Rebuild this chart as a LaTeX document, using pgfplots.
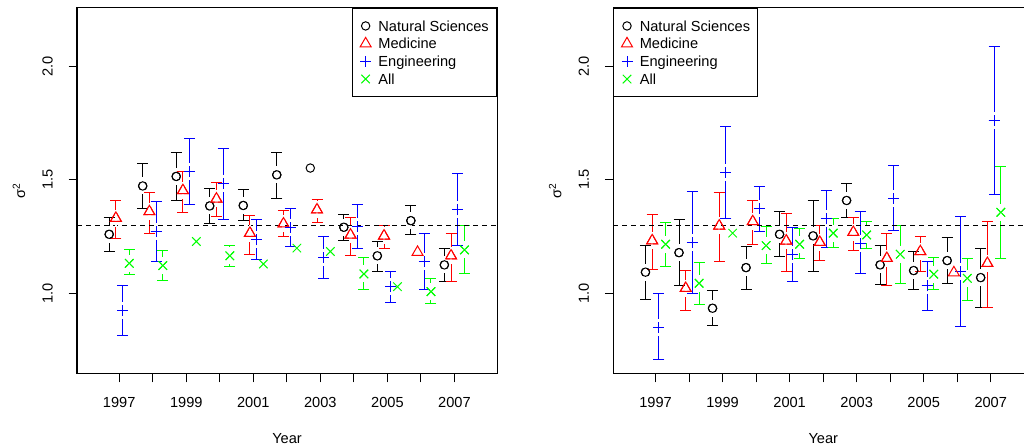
\documentclass[border=0pt]{standalone}
\usepackage{fontspec}
\setmainfont{Liberation Sans}
\usepackage{pgfplots}
\usepackage{pgfplotstable}
\pgfplotsset{compat=1.18}
\newcommand\fs{\fontsize{14.6pt}{17pt}\selectfont}
\definecolor{rred}{RGB}{255,0,0}
\definecolor{rblue}{RGB}{0,0,255}
\definecolor{rgreen}{RGB}{0,255,0}
\pgfdeclareplotmark{rplus}{%
  \pgfpathmoveto{\pgfqpoint{-\pgfplotmarksize}{0pt}}%
  \pgfpathlineto{\pgfqpoint{\pgfplotmarksize}{0pt}}%
  \pgfpathmoveto{\pgfqpoint{0pt}{-\pgfplotmarksize}}%
  \pgfpathlineto{\pgfqpoint{0pt}{\pgfplotmarksize}}%
  \pgfusepathqstroke}

% left panel
\pgfplotstableread{
x y lo hi
1996.7 1.260 1.184 1.335
1997.7 1.473 1.375 1.571
1998.7 1.515 1.407 1.622
1999.7 1.385 1.309 1.460
2000.7 1.387 1.319 1.456
2001.7 1.522 1.419 1.620
2003.7 1.291 1.232 1.349
2004.7 1.165 1.095 1.228
2005.7 1.320 1.257 1.385
2006.7 1.125 1.051 1.199
}\lNS
\pgfplotstableread{
x y
2002.7 1.552
}\lNSn
\pgfplotstableread{
x y lo hi
1996.9 1.331 1.243 1.410
1997.9 1.360 1.265 1.444
1998.9 1.453 1.356 1.537
1999.9 1.416 1.338 1.488
2000.9 1.265 1.173 1.342
2001.9 1.306 1.250 1.365
2002.9 1.368 1.312 1.415
2003.9 1.257 1.165 1.335
2004.9 1.253 1.199 1.297
2006.9 1.165 1.051 1.262
}\lMed
\pgfplotstableread{
x y
2005.9 1.181
}\lMedn
\pgfplotstableread{
x y lo hi
1997.1 0.923 0.813 1.035
1998.1 1.272 1.139 1.403
1999.1 1.537 1.390 1.684
2000.1 1.485 1.327 1.640
2001.1 1.235 1.147 1.323
2002.1 1.291 1.206 1.375
2003.1 1.159 1.066 1.250
2004.1 1.294 1.199 1.390
2005.1 1.029 0.959 1.095
2006.1 1.139 1.015 1.262
2007.1 1.368 1.209 1.526
}\lEng
\pgfplotstableread{
x y lo hi
1997.3 1.132 1.081 1.191
1998.3 1.122 1.056 1.188
2000.3 1.165 1.117 1.210
2004.3 1.085 1.015 1.159
2006.3 1.007 0.956 1.066
2007.3 1.191 1.085 1.297
}\lAll
\pgfplotstableread{
x y
1999.3 1.228
2001.3 1.129
2002.3 1.199
2003.3 1.184
2005.3 1.029
}\lAlln

% right panel
\pgfplotstableread{
x y lo hi
1996.7 1.093 0.974 1.209
1997.7 1.179 1.032 1.323
1998.7 0.934 0.856 1.012
1999.7 1.113 1.018 1.206
2000.7 1.260 1.162 1.360
2001.7 1.253 1.095 1.409
2002.7 1.409 1.335 1.482
2003.7 1.125 1.040 1.210
2004.7 1.100 1.015 1.184
2005.7 1.144 1.041 1.245
2006.7 1.069 0.936 1.199
}\rNS
\pgfplotstableread{
x y lo hi
1996.9 1.232 1.103 1.349
1997.9 1.022 0.926 1.100
1998.9 1.297 1.138 1.446
1999.9 1.316 1.213 1.409
2000.9 1.231 1.095 1.353
2001.9 1.225 1.143 1.298
2002.9 1.269 1.188 1.335
2003.9 1.154 1.034 1.265
2004.9 1.184 1.095 1.250
2006.9 1.132 0.936 1.316
}\rMed
\pgfplotstableread{
x y
2005.9 1.091
}\rMedn
\pgfplotstableread{
x y lo hi
1997.1 0.850 0.706 0.997
1998.1 1.223 0.997 1.448
1999.1 1.534 1.331 1.733
2000.1 1.375 1.272 1.470
2001.1 1.172 1.051 1.291
2002.1 1.328 1.201 1.453
2003.1 1.221 1.085 1.360
2004.1 1.419 1.275 1.563
2005.1 1.032 0.922 1.139
2006.1 1.095 0.853 1.338
2007.1 1.762 1.434 2.086
}\rEng
\pgfplotstableread{
x y lo hi
1997.3 1.216 1.120 1.313
1998.3 1.044 0.951 1.135
2000.3 1.210 1.132 1.294
2001.3 1.216 1.154 1.287
2002.3 1.265 1.201 1.328
2003.3 1.257 1.196 1.316
2004.3 1.172 1.044 1.298
2005.3 1.084 1.018 1.157
2006.3 1.066 0.970 1.154
2007.3 1.357 1.154 1.559
}\rAll
\pgfplotstableread{
x y
1999.3 1.265
}\rAlln

\pgfplotsset{
  panel/.style={
    scale only axis, width=420pt, height=366.3pt, anchor=south west,
    xmin=1995.74, xmax=2008.27, ymin=0.644, ymax=2.259,
    axis line style={line width=1pt},
    xtick={1997,1998,1999,2000,2001,2002,2003,2004,2005,2006,2007},
    xticklabels={1997,,1999,,2001,,2003,,2005,,2007},
    ytick={1,1.5,2}, yticklabels={1.0,1.5,2.0},
    xtick pos=bottom, ytick pos=left, tick align=outside, major tick length=8.5pt,
    tick style={black,line width=1pt},
    font=\fs, ticklabel style={font=\fs},
    xticklabel style={anchor=base}, xticklabel shift=25pt,
    yticklabel style={rotate=90, anchor=base}, yticklabel shift=16pt,
    xlabel={Year}, ylabel={σ\textsuperscript{2}},
    xlabel style={at={(axis description cs:0.5,0)}, anchor=base, yshift=-70pt, font=\fs},
    ylabel style={at={(axis description cs:-0.1238,0.5)}, anchor=base, font=\fs},
    legend cell align=left,
    legend style={draw=black, line width=1pt, font=\fs,
      inner xsep=7.7pt, inner ysep=11pt, row sep=4.2pt, column sep=7.3pt,
      nodes={inner sep=0pt, text height=12pt, text depth=1.5pt}},
    every axis plot/.append style={line width=1pt},
  },
  eb/.style={error bars/.cd, y dir=both, y explicit,
    error bar style={line width=1pt, solid},
    error mark options={rotate=90, mark size=5.5pt, line width=1pt}},
  gap/.style={forget plot, only marks, mark=|, mark size=8.5pt,
    mark options={draw=white, line width=2.4pt}},
  sNS/.style={color=black, only marks, mark=o, mark size=4.2pt,
    legend image code/.code={\draw[mark repeat=2,mark phase=2,##1,mark options={draw=black}] plot coordinates {(0pt,0pt)(6pt,0pt)(12pt,0pt)};}},
  sMed/.style={color=rred, only marks, mark=triangle, mark size=6.3pt,
    legend image code/.code={\draw[mark repeat=2,mark phase=2,##1,mark options={draw=rred}] plot coordinates {(0pt,0pt)(6pt,0pt)(12pt,0pt)};}},
  sEng/.style={color=rblue, only marks, mark=rplus, mark size=5.5pt, mark options={draw=rblue, color=rblue},
    legend image code/.code={\draw[mark repeat=2,mark phase=2,##1,rblue,mark options={draw=rblue}] plot coordinates {(0pt,0pt)(6pt,0pt)(12pt,0pt)};}},
  sAll/.style={color=rgreen, only marks, mark=x, mark size=6pt,
    legend image code/.code={\draw[mark repeat=2,mark phase=2,##1,mark options={draw=rgreen}] plot coordinates {(0pt,0pt)(6pt,0pt)(12pt,0pt)};}},
}

\begin{document}
\begin{tikzpicture}[trim left=0pt, trim right=1024pt]
\path (0pt,0pt) rectangle (1024pt,446pt);
\begin{axis}[panel, at={(77pt,72pt)},
  legend style={at={(1,1)}, anchor=north east}]
% error bars
\addplot[sNS, forget plot, eb] table[x=x, y=y, y error plus expr=\thisrow{hi}-\thisrow{y}, y error minus expr=\thisrow{y}-\thisrow{lo}] {\lNS};
\addplot[sMed, forget plot, eb] table[x=x, y=y, y error plus expr=\thisrow{hi}-\thisrow{y}, y error minus expr=\thisrow{y}-\thisrow{lo}] {\lMed};
\addplot[sEng, forget plot, eb] table[x=x, y=y, y error plus expr=\thisrow{hi}-\thisrow{y}, y error minus expr=\thisrow{y}-\thisrow{lo}] {\lEng};
\addplot[sAll, forget plot, eb] table[x=x, y=y, y error plus expr=\thisrow{hi}-\thisrow{y}, y error minus expr=\thisrow{y}-\thisrow{lo}] {\lAll};
% gaps around the points
\addplot[gap] table[x=x, y=y] {\lNS};
\addplot[gap] table[x=x, y=y] {\lMed};
\addplot[gap] table[x=x, y=y] {\lEng};
\addplot[gap] table[x=x, y=y] {\lAll};
\addplot[black, line width=1pt, dash pattern=on 5pt off 4pt, forget plot] coordinates {(1995.74,1.3) (2008.27,1.3)};
% points
\addplot[sNS] table[x=x, y=y] {\lNS};
\addlegendentry{Natural Sciences}
\addplot[sMed] table[x=x, y=y] {\lMed};
\addlegendentry{Medicine}
\addplot[sEng] table[x=x, y=y] {\lEng};
\addlegendentry{Engineering}
\addplot[sAll] table[x=x, y=y] {\lAll};
\addlegendentry{All}
\addplot[sNS, forget plot] table[x=x, y=y] {\lNSn};
\addplot[sMed, forget plot] table[x=x, y=y] {\lMedn};
\addplot[sAll, forget plot] table[x=x, y=y] {\lAlln};
\end{axis}
\begin{axis}[panel, at={(613.3pt,72pt)},
  legend style={at={(0,1)}, anchor=north west}]
\addplot[sNS, forget plot, eb] table[x=x, y=y, y error plus expr=\thisrow{hi}-\thisrow{y}, y error minus expr=\thisrow{y}-\thisrow{lo}] {\rNS};
\addplot[sMed, forget plot, eb] table[x=x, y=y, y error plus expr=\thisrow{hi}-\thisrow{y}, y error minus expr=\thisrow{y}-\thisrow{lo}] {\rMed};
\addplot[sEng, forget plot, eb] table[x=x, y=y, y error plus expr=\thisrow{hi}-\thisrow{y}, y error minus expr=\thisrow{y}-\thisrow{lo}] {\rEng};
\addplot[sAll, forget plot, eb] table[x=x, y=y, y error plus expr=\thisrow{hi}-\thisrow{y}, y error minus expr=\thisrow{y}-\thisrow{lo}] {\rAll};
\addplot[gap] table[x=x, y=y] {\rNS};
\addplot[gap] table[x=x, y=y] {\rMed};
\addplot[gap] table[x=x, y=y] {\rEng};
\addplot[gap] table[x=x, y=y] {\rAll};
\addplot[black, line width=1pt, dash pattern=on 5pt off 4pt, forget plot] coordinates {(1995.74,1.3) (2008.27,1.3)};
\addplot[sNS] table[x=x, y=y] {\rNS};
\addlegendentry{Natural Sciences}
\addplot[sMed] table[x=x, y=y] {\rMed};
\addlegendentry{Medicine}
\addplot[sEng] table[x=x, y=y] {\rEng};
\addlegendentry{Engineering}
\addplot[sAll] table[x=x, y=y] {\rAll};
\addlegendentry{All}
\addplot[sMed, forget plot] table[x=x, y=y] {\rMedn};
\addplot[sAll, forget plot] table[x=x, y=y] {\rAlln};
\end{axis}
\end{tikzpicture}
\end{document}
